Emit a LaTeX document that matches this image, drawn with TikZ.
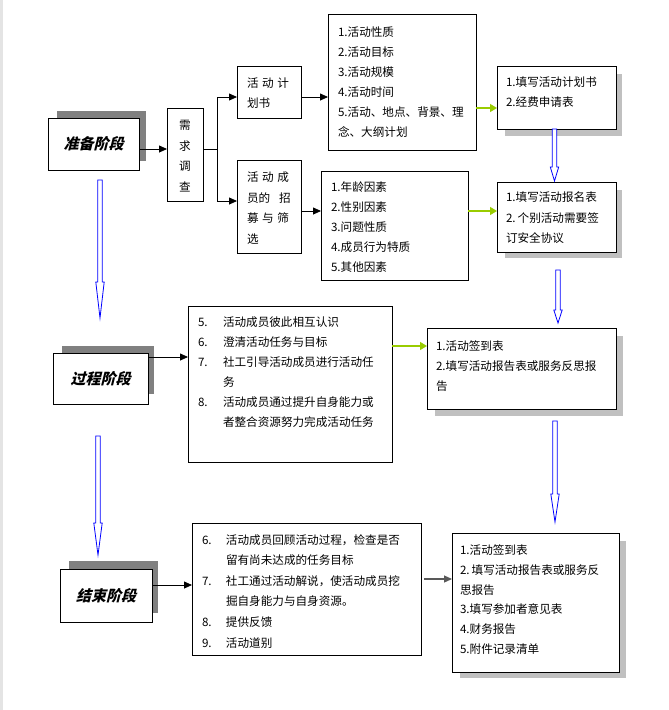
\documentclass[tikz,border=0pt]{standalone}
\usepackage{fontspec}
\setmainfont{Noto Sans CJK SC}
\newfontfamily\stagefont{Noto Sans CJK SC}[UprightFeatures={FakeSlant=0.25},BoldFeatures={FakeSlant=0.25}]
\usetikzlibrary{arrows.meta,calc,backgrounds}
\definecolor{lgreen}{RGB}{153,204,0}
\definecolor{dshadow}{RGB}{128,128,128}
\definecolor{lshadow}{RGB}{192,192,192}
\definecolor{bblue}{RGB}{0,0,255}
\definecolor{edgegray}{RGB}{228,228,228}
% box text: width, height, top space, left pad, content
\newcommand\btxt[6][20]{\parbox[c][#3][t]{#2}{\fontsize{11.6}{#1}\selectfont\parindent=0pt\leftskip=#5\rightskip=0pt plus 1fil\vspace*{#4}#6\par}}
\newcommand\itm[3]{\par\hangindent=#1\hangafter=1\makebox[#1][l]{\strut #2}#3}
\newcommand\blockarrow[3]{\draw[blockarr] let \p1=(#1), \p2=(#2) in
  (\x1-2.2pt,\y1) -- (\x1-2.2pt,\y2+#3) -- (\x1-4.2pt,\y2+#3) -- (\x1,\y2) --
  (\x1+4.2pt,\y2+#3) -- (\x1+2.2pt,\y2+#3) -- (\x1+2.2pt,\y1) -- cycle;}
\tikzset{
  bx/.style={draw=black, line width=0.8pt, fill=white, inner sep=0pt, outer sep=0pt},
  stagebox/.style={draw=black, line width=0.8pt, fill=white, inner sep=0pt, outer sep=0pt,
    font=\stagefont\bfseries\fontsize{15}{18}\selectfont},
  arr/.style={line width=0.8pt, -{Triangle[length=8pt,width=7pt]}},
  garr/.style={line width=1.2pt, draw=lgreen, -{Triangle[length=7pt,width=8pt,fill=lgreen]}},
  grarr/.style={line width=1.2pt, draw=black!65, -{Triangle[length=8pt,width=7pt]}},
  blockarr/.style={draw=bblue, line width=0.8pt, fill=white, line join=miter},
  dsh/.style={fill=dshadow},
  lsh/.style={fill=lshadow}
}
\begin{document}
\begin{tikzpicture}[x=1pt,y=-1pt]
\useasboundingbox (0,0) rectangle (669,710);

% stage boxes
\node[stagebox, minimum width=91pt, minimum height=52pt] (prep) at (93.5,144) {准备阶段};
\node[stagebox, minimum width=95pt, minimum height=51pt] (stage2) at (100.5,378.5) {过程阶段};
\node[stagebox, minimum width=92pt, minimum height=53pt] (stage3) at (106,595.5) {结束阶段};

% survey
\node[bx, anchor=north west] (survey) at (167,108)
  {\parbox[c][93pt][t]{36pt}{\fontsize{11.6}{20.5}\selectfont\centering\vspace*{7.6pt}\strut 需\\求\\调\\查\par}};

\node[bx, anchor=north west] (plan) at (237,66)
  {\btxt{64pt}{52pt}{7.6pt}{10pt}{\strut 活\hspace{3.6pt}动\hspace{3.6pt}计\\划书}};
\node[bx, anchor=north west] (recruit) at (237,160)
  {\btxt[20.5]{64pt}{93pt}{7.6pt}{10pt}{\strut 活\hspace{3.6pt}动\hspace{3.6pt}成\\员的\hspace{9pt}招\\募\hspace{3.6pt}与\hspace{3.6pt}筛\\选}};

\node[bx, anchor=north west] (list1) at (328,14)
  {\btxt{148pt}{136pt}{8.6pt}{10pt}{\strut 1.活动性质\\2.活动目标\\3.活动规模\\4.活动时间\\5.活动、地点、背景、理\\念、大纲计划}};
\node[bx, anchor=north west] (list2) at (321,171)
  {\btxt{147pt}{109pt}{6.6pt}{10pt}{\strut 1.年龄因素\\2.性别因素\\3.问题性质\\4.成员行为特质\\5.其他因素}};

\node[bx, anchor=north west] (form1) at (497,66)
  {\btxt{119pt}{63pt}{6.6pt}{9pt}{\strut 1.填写活动计划书\\2.经费申请表}};
\node[bx, anchor=north west] (form2) at (497,182)
  {\btxt[20.5]{119pt}{70pt}{5.6pt}{9pt}{\strut 1.填写活动报名表\\2.\hspace{2pt}个别活动需要签\\订安全协议}};

\node[bx, anchor=north west] (proc) at (188,306)
  {\btxt{204pt}{156pt}{6.6pt}{10pt}{%
    \itm{25pt}{5.}{活动成员彼此相互认识}%
    \itm{25pt}{6.}{澄清活动任务与目标}%
    \itm{25pt}{7.}{社工引导活动成员进行活动任\\务}%
    \itm{25pt}{8.}{活动成员通过提升自身能力或\\者整合资源努力完成活动任务}}};

\node[bx, anchor=north west] (sign1) at (427,328)
  {\btxt{189pt}{81pt}{8.6pt}{9pt}{\strut 1.活动签到表\\2.填写活动报告表或服务反思报\\告}};

\node[bx, anchor=north west] (endbox) at (192,523)
  {\btxt[20.6]{229pt}{132pt}{6.6pt}{10pt}{%
    \itm{24pt}{6.}{活动成员回顾活动过程，检查是否\\留有尚未达成的任务目标}%
    \itm{24pt}{7.}{社工通过活动解说，使活动成员挖\\掘自身能力与自身资源。}%
    \itm{24pt}{8.}{提供反馈}%
    \itm{24pt}{9.}{活动道别}}};

\node[bx, anchor=north west] (final) at (452,533)
  {\btxt[19.8]{167pt}{139pt}{7.6pt}{8pt}{\strut 1.活动签到表\\2.\hspace{2pt}填写活动报告表或服务反\\思报告\\3.填写参加者意见表\\4.财务报告\\5.附件记录清单}};

% background, strip and shadows
\begin{scope}[on background layer]
  \fill[white] (0,0) rectangle (669,710);
  \fill[edgegray] (0,0) rectangle (3,710);
  \fill[dsh] ([shift={(9,-7)}]prep.north west) rectangle ([shift={(7,-9)}]prep.south east);
  \fill[dsh] ([shift={(9,-7)}]stage2.north west) rectangle ([shift={(6,-10)}]stage2.south east);
  \fill[dsh] ([shift={(9,-8)}]stage3.north west) rectangle ([shift={(6,-9)}]stage3.south east);
  \fill[lsh] ([shift={(8,8)}]form1.north west) rectangle ([shift={(6,7)}]form1.south east);
  \fill[lsh] ([shift={(8,8)}]form2.north west) rectangle ([shift={(6,6)}]form2.south east);
  \fill[lsh] ([shift={(8,8)}]sign1.north west) rectangle ([shift={(7,7)}]sign1.south east);
  \fill[lsh] ([shift={(8,8)}]final.north west) rectangle ([shift={(7,6)}]final.south east);
\end{scope}

% black connectors
\draw[arr] ([shift={(0,5)}]prep.east) -- ([shift={(0,5)}]prep.east -| survey.west);
\coordinate (fork) at ([shift={(14,-5.5)}]survey.east);
\coordinate (pIn) at ([shift={(0,5)}]plan.west);
\coordinate (rIn) at ([shift={(0,-5.5)}]recruit.west);
\draw[line width=0.8pt] ([shift={(0,-5.5)}]survey.east) -- (fork);
\draw[arr] (fork) |- (pIn);
\draw[arr] (fork) |- (rIn);
\draw[arr] ([shift={(0,5)}]plan.east) -- ([shift={(0,5)}]plan.east -| list1.west);
\draw[arr] ([shift={(0,4.5)}]recruit.east) -- ([shift={(0,4.5)}]recruit.east -| list2.west);
\draw[arr] ([shift={(0,-21.5)}]stage2.east) -- ([shift={(0,-21.5)}]stage2.east -| proc.west);
\draw[arr] ([shift={(0,-10.5)}]stage3.east) -- ([shift={(0,-10.5)}]stage3.east -| endbox.west);
\draw[grarr] ([shift={(3,-10)}]endbox.east) -- ([shift={(0,-10)}]endbox.east -| final.west);

% green connectors
\draw[garr] ([shift={(0,26)}]list1.east) -- ([shift={(0,26)}]list1.east -| form1.west);
\draw[garr] ([shift={(0,-14.5)}]list2.east) -- ([shift={(0,-14.5)}]list2.east -| form2.west);
\draw[garr] ([shift={(0,-38)}]proc.east) -- ([shift={(0,-38)}]proc.east -| sign1.west);

% blue block arrows
\coordinate (a1s) at ([shift={(6.5,10)}]prep.south);
\coordinate (a1e) at ([shift={(0,-35)}]stage2.north);
\coordinate (a2s) at ([shift={(-2.5,32)}]stage2.south);
\coordinate (a2e) at ([shift={(0,-14)}]stage3.north);
\coordinate (a3s) at ([shift={(-2,0)}]form1.south);
\coordinate (a3e) at ([shift={(0,-1)}]form2.north);
\coordinate (a4s) at ([shift={(1.5,18)}]form2.south);
\coordinate (a4e) at ([shift={(0,-5)}]sign1.north);
\coordinate (a5s) at ([shift={(33.5,12)}]sign1.south);
\coordinate (a5e) at ([shift={(0,-11)}]final.north);
\blockarrow{a1s}{a1e}{36pt}
\blockarrow{a2s}{a2e}{32pt}
\blockarrow{a3s}{a3e}{14pt}
\blockarrow{a4s}{a4e}{13pt}
\blockarrow{a5s}{a5e}{28pt}
\end{tikzpicture}
\end{document}
